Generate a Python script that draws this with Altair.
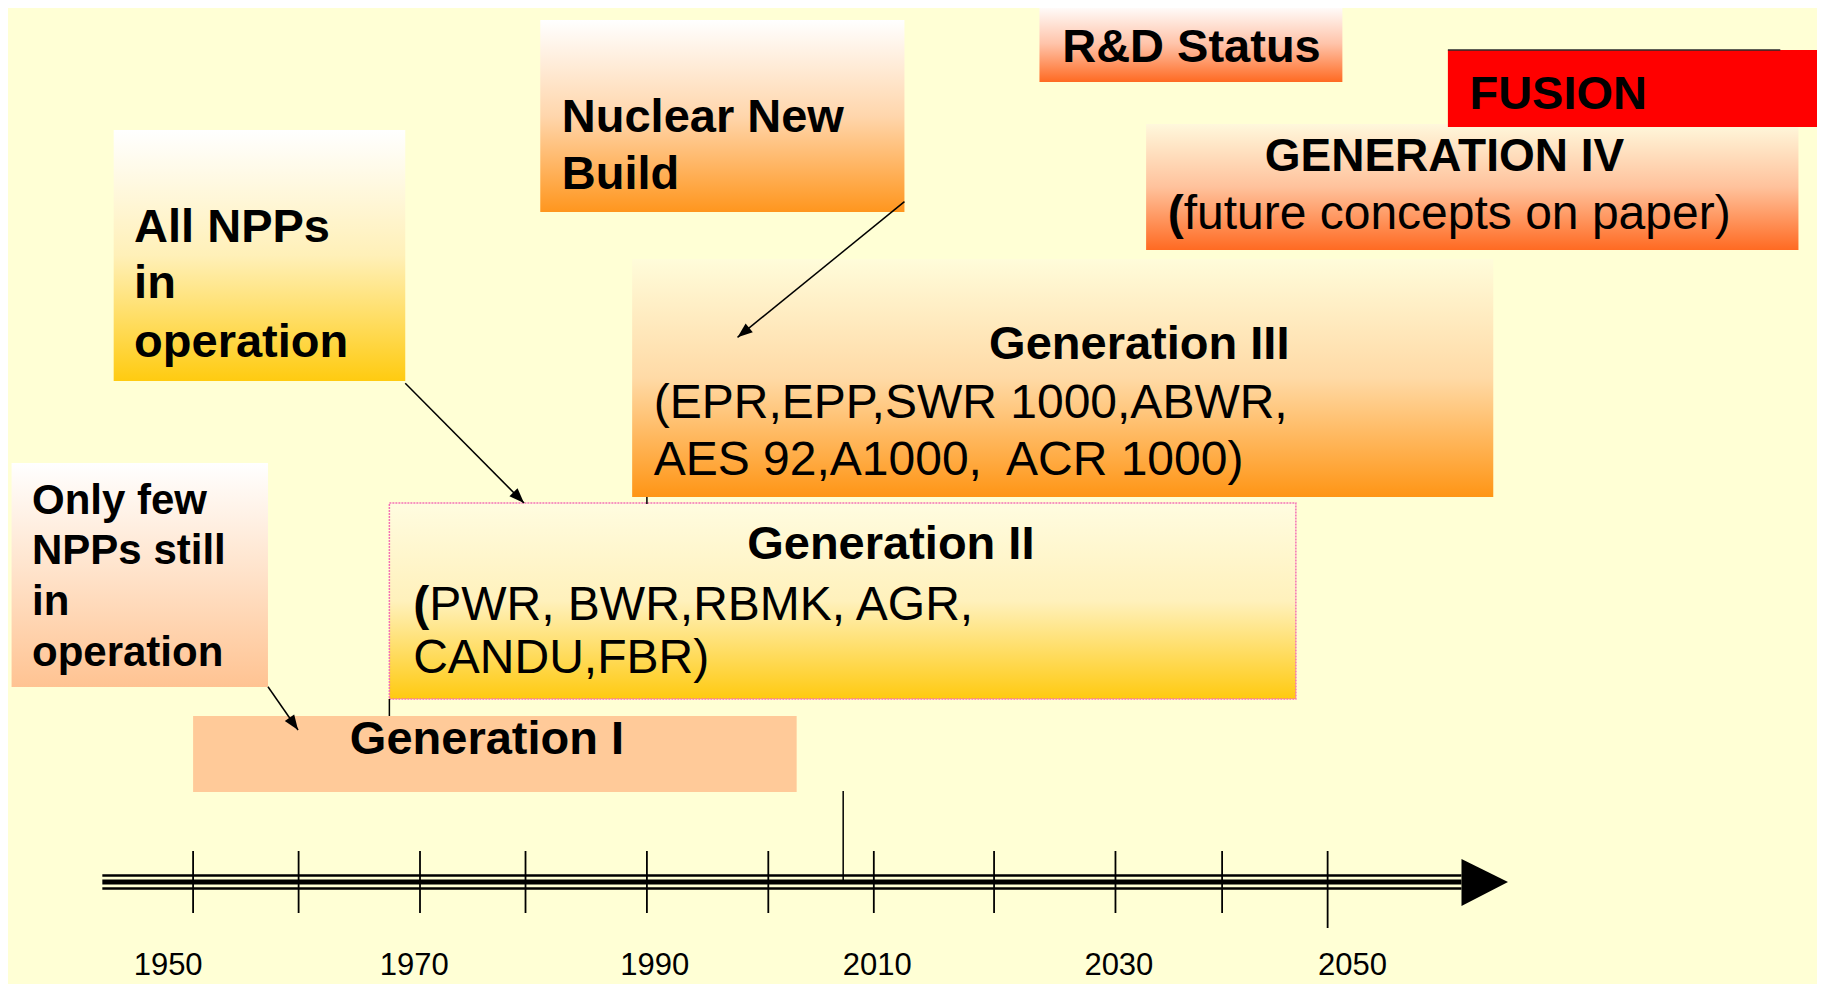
import math
import altair as alt
import pandas as pd

W, H = 1825, 984
X_DOMAIN = [1932.98, 2093.84]   # years spanned by the slide, left to right
Y_DOMAIN = [0, 984]             # vertical layout units, top to bottom
BG = "#FFFFD5"
FONT = "Liberation Sans"
PX_YEAR = W / (X_DOMAIN[1] - X_DOMAIN[0])
PX_UNIT = H / (Y_DOMAIN[1] - Y_DOMAIN[0])
PAREN_EM = 0.333   # advance width of "(" in Arial / Liberation Sans

# ---------------- boxes ----------------
box_names = ["only_few", "all_npps", "new_build", "gen3", "gen2", "gen1", "rd", "gen4", "fusion"]
box_x0 = [1934.0, 1943.0, 1980.6, 1988.7, 1967.3, 1950.0, 2024.6, 2034.0, 2060.6]
box_x1 = [1956.6, 1968.7, 2012.7, 2064.6, 2047.2, 2003.2, 2051.3, 2091.5, 2093.9]
box_y0 = [463, 130, 20, 259, 503, 716, 5, 124, 50]
box_y1 = [687, 381, 212, 497, 699, 792, 82, 250, 127]
box_top = ["#FFFFFF", "#FFFFFF", "#FFFFFF", "#FFFCDA", "#FFFCE0", "#FFCA99", "#FFFFFF", "#FFF8DC", "#FF0000"]
box_mid = ["#FFE2C9", "#FFF0B8", "#FFD6AC", "#FFDAA6", "#FFF1BC", "#FFCA99", "#FFC4AA", "#FFC29C", "#FF0000"]
box_bottom = ["#FFC392", "#FFCB10", "#FF961E", "#FF9515", "#FFCA10", "#FFCA99", "#FF6A22", "#FF6A22", "#FF0000"]
box_stroke = [None, None, None, None, "#F472B6", None, None, None, None]

# ---------------- texts ----------------
text_strings = [
    "Only few", "NPPs still", "in", "operation",
    "All NPPs", "in", "operation",
    "Nuclear New", "Build",
    "Generation III", "(EPR,EPP,SWR 1000,ABWR,", "AES 92,A1000,\u00a0 ACR 1000)",
    "Generation II", "CANDU,FBR)",
    "Generation I",
    "R&D Status",
    "FUSION",
    "GENERATION IV",
]
text_x = [1935.8, 1935.8, 1935.8, 1935.8,
          1944.8, 1944.8, 1944.8,
          1982.5, 1982.5,
          2033.4, 1990.6, 1990.6,
          2011.5, 1969.4,
          1975.9,
          2038.0,
          2062.5,
          2060.3]
text_y = [501, 551, 602, 653,
          227.5, 284, 343,
          117.5, 174.7,
          345, 404, 461,
          545, 659,
          740,
          47.5,
          95,
          156.7]
text_size = [42, 42, 42, 42,
             47, 47, 47,
             47, 47,
             47, 48, 48,
             47, 48,
             47,
             47,
             47,
             46]
text_bold = [True] * 10 + [False, False, True, False, True, True, True, True]
text_align = ["left"] * 9 + ["center", "left", "left", "center", "left",
                            "center", "center", "left", "center"]

# lines that open with a bold bracket followed by regular text
paren_rest = ["PWR, BWR,RBMK, AGR,", "future concepts on paper)"]
paren_x = [1969.4, 2035.9]
paren_y = [606, 215]
paren_size = [48, 48]

# ---------------- arrows ----------------
arrow_x0 = [1956.6, 1968.7, 2012.7]
arrow_y0 = [686.7, 383.3, 201.7]
arrow_x1 = [1959.25, 1979.17, 1997.99]
arrow_y1 = [730, 503, 337.3]

# ---------------- time axis ----------------
axis_start, axis_end = 1942.0, 2061.8
axis_line_y = [875.5, 882, 888.5]
axis_line_w = [2.5, 5.0, 2.5]
head_x = [2061.8, 2065.9]
head_top = [859, 882]
head_bottom = [906, 882]
tick_years = [1950, 1959.3, 1970, 1979.3, 1990, 2000.7, 2010, 2020.6, 2031.3, 2040.7, 2050]
tick_top = [851] * 11
tick_bottom = [913] * 10 + [928]
label_text = ["1950", "1970", "1990", "2010", "2030", "2050"]
label_x = [1947.8, 1969.5, 1990.7, 2010.3, 2031.6, 2052.2]
label_y = 966
# other thin connector lines
conn_x = [2007.3, 1990.0, 1967.3]
conn_y0 = [791, 497, 699]
conn_y1 = [880, 504, 716]
fusion_line_x = [2060.6, 2089.9]
fusion_line_y = 50

xs = alt.Scale(domain=X_DOMAIN, nice=False, zero=False)
ys = alt.Scale(domain=Y_DOMAIN, reverse=True, nice=False, zero=False)

def X(f):
    return alt.X(f, type="quantitative", scale=xs, axis=None)

def Y(f):
    return alt.Y(f, type="quantitative", scale=ys, axis=None)

layers = []

# boxes
for i, name in enumerate(box_names):
    df = pd.DataFrame({"x0": [box_x0[i]], "x1": [box_x1[i]], "y0": [box_y0[i]], "y1": [box_y1[i]]})
    if box_top[i] == box_bottom[i]:
        fill = box_top[i]
    else:
        fill = alt.Gradient(gradient="linear", x1=0, y1=0, x2=0, y2=1,
                            stops=[alt.GradientStop(color=box_top[i], offset=0),
                                   alt.GradientStop(color=box_mid[i], offset=0.5),
                                   alt.GradientStop(color=box_bottom[i], offset=1)])
    kw = dict(fill=fill, opacity=1)
    if box_stroke[i]:
        kw.update(stroke=box_stroke[i], strokeWidth=1.5, strokeDash=[2, 1])
    else:
        kw.update(strokeWidth=0)
    layers.append(alt.Chart(df).mark_rect(**kw).encode(x=X("x0"), x2="x1", y=Y("y0"), y2="y1"))

# fusion top line
layers.append(alt.Chart(pd.DataFrame({"x0": [fusion_line_x[0]], "x1": [fusion_line_x[1]], "y": [fusion_line_y]}))
              .mark_rule(color="#2B2B2B", strokeWidth=1.5)
              .encode(x=X("x0"), x2="x1", y=Y("y")))

# connector lines
layers.append(alt.Chart(pd.DataFrame({"x": conn_x, "y0": conn_y0, "y1": conn_y1}))
              .mark_rule(color="black", strokeWidth=1.5)
              .encode(x=X("x"), y=Y("y0"), y2="y1"))

# texts
tdf = pd.DataFrame({"t": text_strings, "x": text_x, "y": text_y, "s": text_size,
                    "b": text_bold, "a": text_align})
# bold bracket + regular remainder
pb = pd.DataFrame({"t": ["("] * len(paren_x), "x": paren_x, "y": paren_y, "s": paren_size,
                   "b": [True] * len(paren_x), "a": ["left"] * len(paren_x)})
pr = pd.DataFrame({"t": paren_rest,
                   "x": [px + PAREN_EM * s / PX_YEAR for px, s in zip(paren_x, paren_size)],
                   "y": paren_y, "s": paren_size,
                   "b": [False] * len(paren_x), "a": ["left"] * len(paren_x)})
tdf = pd.concat([tdf, pb, pr], ignore_index=True)
for (bold, align), sub in tdf.groupby(["b", "a"]):
    layers.append(alt.Chart(sub).mark_text(font=FONT, fontWeight="bold" if bold else "normal",
                                           align=align, baseline="middle", color="black")
                  .encode(x=X("x"), y=Y("y"), text="t:N", size=alt.Size("s:Q", scale=None, legend=None)))

# arrows
angles = []
for a in range(len(arrow_x0)):
    dx = (arrow_x1[a] - arrow_x0[a]) * PX_YEAR
    dy = (arrow_y1[a] - arrow_y0[a]) * PX_UNIT
    angles.append(math.degrees(math.atan2(dx, -dy)) % 360)
adf = pd.DataFrame({"x0": arrow_x0, "y0": arrow_y0, "x1": arrow_x1, "y1": arrow_y1, "ang": angles})
layers.append(alt.Chart(adf).mark_rule(color="black", strokeWidth=1.5)
              .encode(x=X("x0"), y=Y("y0"), x2="x1", y2="y1"))
layers.append(alt.Chart(adf).mark_point(shape="M0,0L0.38,1L-0.38,1Z", filled=True, color="black",
                                        opacity=1, strokeWidth=0, size=900)
              .encode(x=X("x1"), y=Y("y1"), angle=alt.Angle("ang:Q", scale=None)))

# time axis lines
ldf = pd.DataFrame({"x0": [axis_start] * 3, "x1": [axis_end] * 3, "y": axis_line_y, "w": axis_line_w})
layers.append(alt.Chart(ldf).mark_rule(color="black")
              .encode(x=X("x0"), x2="x1", y=Y("y"), size=alt.Size("w:Q", scale=None, legend=None)))
# arrowhead
hdf = pd.DataFrame({"x": head_x, "yt": head_top, "yb": head_bottom})
layers.append(alt.Chart(hdf).mark_area(color="black", opacity=1)
              .encode(x=X("x"), y=Y("yt"), y2="yb"))
# ticks
kdf = pd.DataFrame({"x": tick_years, "y0": tick_top, "y1": tick_bottom})
layers.append(alt.Chart(kdf).mark_rule(color="black", strokeWidth=1.8)
              .encode(x=X("x"), y=Y("y0"), y2="y1"))
# year labels
ydf = pd.DataFrame({"t": label_text, "x": label_x, "y": [label_y] * len(label_text)})
layers.append(alt.Chart(ydf).mark_text(font=FONT, fontSize=31, align="center", baseline="middle", color="black")
              .encode(x=X("x"), y=Y("y"), text="t:N"))

chart = (alt.layer(*layers)
         .properties(width=W, height=H, background=BG,
                     autosize=alt.AutoSizeParams(type="none"),
                     padding={"left": -8, "top": -8, "right": -8, "bottom": 0})
         .configure_view(stroke=None))

chart.save("out.html", embed_options={"renderer": "svg", "actions": False})
